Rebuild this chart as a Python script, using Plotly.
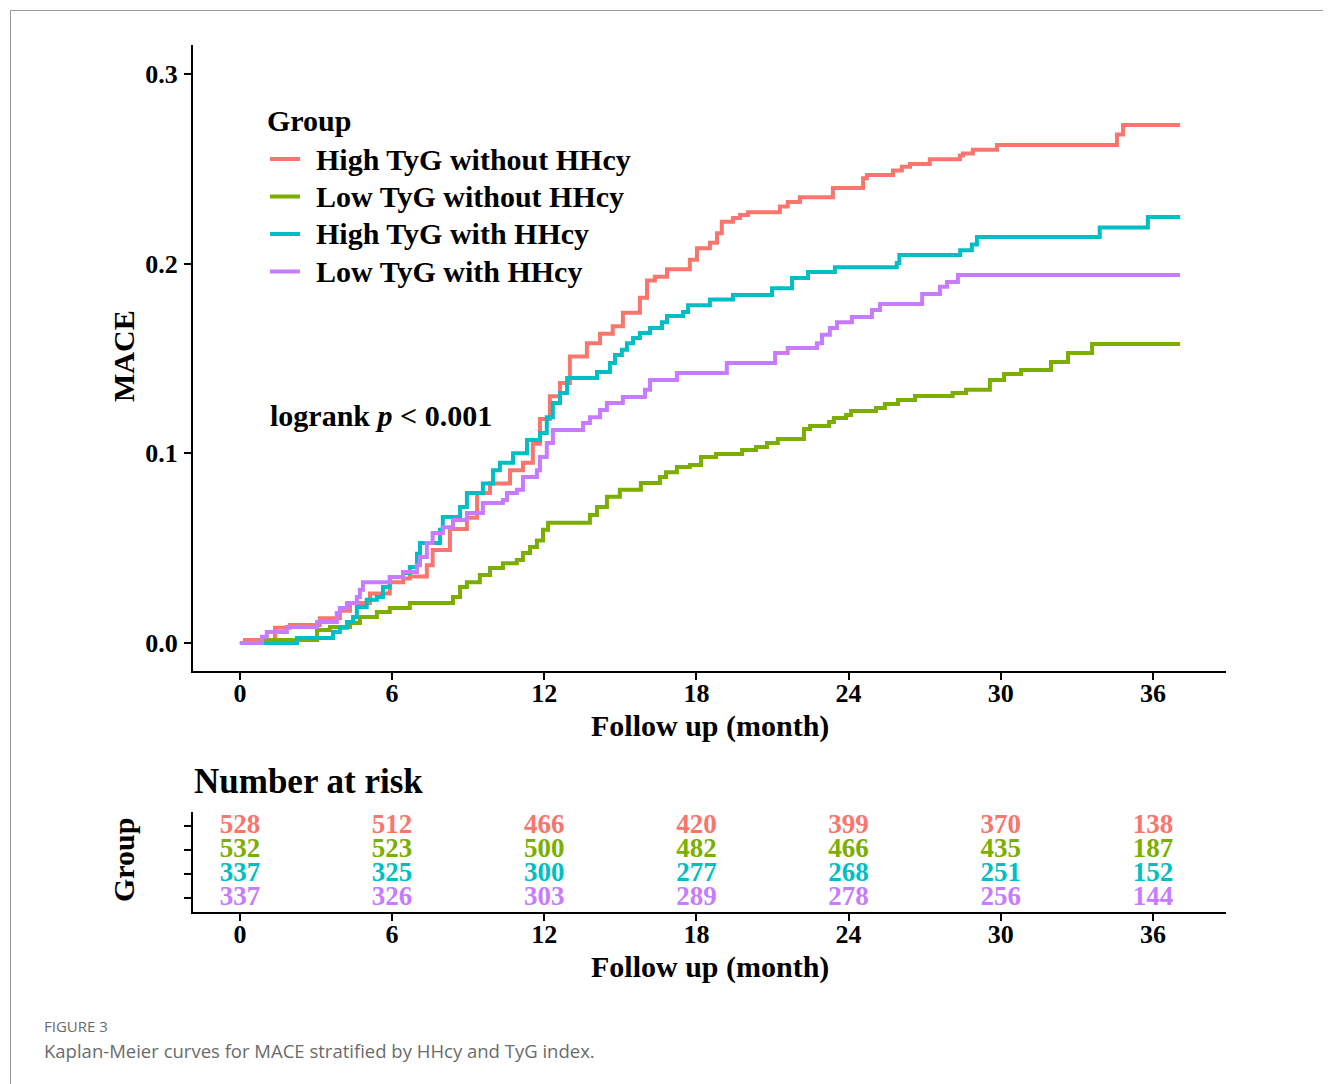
import plotly.graph_objects as go

# ---------------- data ----------------
group_names = ["High TyG without HHcy", "Low TyG without HHcy",
               "High TyG with HHcy", "Low TyG with HHcy"]
group_colors = ["#F8766D", "#7CAE00", "#00BFC4", "#C77CFF"]

# Cumulative MACE incidence (step changes), months
t_high_no = [0, 0.2, 1.38, 1.97, 3.15, 3.94, 4.34, 5.13, 5.91, 6.43, 6.7, 7.37, 7.6, 8.28,
             8.95, 9.35, 9.86, 10.65, 11.16, 11.55, 11.83, 12.22, 12.62, 13.01, 13.68, 14.2,
             14.7, 15.1, 15.77, 16.05, 16.36, 16.84, 17.74, 18.02, 18.53, 18.81, 19.0, 19.44,
             19.72, 20.03, 21.29, 21.6, 22.08, 23.38, 24.57, 24.72, 25.75, 26.1, 26.42, 27.2,
             28.39, 28.51, 28.9, 29.85, 34.58, 34.82, 37.07]
y_high_no = [0, 0.0016, 0.008, 0.0095, 0.013, 0.017, 0.021, 0.026, 0.032, 0.034, 0.035, 0.041,
             0.049, 0.06, 0.066, 0.079, 0.084, 0.091, 0.095, 0.105, 0.118, 0.13, 0.137, 0.151,
             0.158, 0.163, 0.167, 0.174, 0.182, 0.191, 0.193, 0.197, 0.202, 0.208, 0.211, 0.216,
             0.222, 0.224, 0.2256, 0.227, 0.23, 0.2325, 0.235, 0.2398, 0.245, 0.2467, 0.249,
             0.251, 0.2525, 0.255, 0.257, 0.258, 0.26, 0.2625, 0.268, 0.273, 0.273]

t_low_no = [0, 0.91, 3.04, 3.55, 4.34, 4.73, 5.4, 5.91, 6.7, 8.4, 8.68, 8.95, 9.46, 9.86,
            10.37, 10.92, 11.16, 11.44, 11.71, 11.95, 12.15, 13.8, 14.08, 14.47, 14.98, 15.81,
            16.56, 16.8, 17.23, 17.74, 18.18, 18.77, 19.8, 20.35, 20.78, 21.21, 22.24, 22.48,
            23.23, 23.42, 23.9, 24.1, 25.08, 25.43, 25.95, 26.62, 28.1, 28.63, 29.57, 30.13,
            30.8, 31.98, 32.65, 33.6, 37.07]
y_low_no = [0, 0.0016, 0.0068, 0.0084, 0.0105, 0.0137, 0.0163, 0.0184, 0.021, 0.0242, 0.0295,
            0.032, 0.0358, 0.0395, 0.042, 0.0437, 0.0474, 0.0506, 0.054, 0.0596, 0.0633, 0.0675,
            0.0717, 0.077, 0.0807, 0.0843, 0.0875, 0.09, 0.0928, 0.0938, 0.098, 0.0996, 0.1017,
            0.1033, 0.1054, 0.1075, 0.1128, 0.1144, 0.1165, 0.1186, 0.1202, 0.1223, 0.1239,
            0.126, 0.1281, 0.1302, 0.1318, 0.1334, 0.1386, 0.1418, 0.1439, 0.1481, 0.1529,
            0.1576, 0.1576]

t_high_hh = [0, 2.25, 3.67, 3.94, 4.22, 4.46, 4.61, 5.0, 5.4, 5.64, 5.91, 6.43, 6.7, 6.98,
             7.1, 7.89, 8.0, 8.68, 8.95, 9.58, 9.98, 10.25, 10.77, 11.32, 11.83, 12.1, 12.34,
             12.62, 12.9, 14.08, 14.59, 14.79, 15.06, 15.26, 15.5, 15.77, 16.17, 16.64, 16.84,
             17.47, 17.67, 18.53, 19.44, 20.98, 21.77, 22.4, 23.46, 25.9, 26.0, 28.4, 28.86,
             29.06, 33.9, 35.8, 37.07]
y_high_hh = [0, 0.0026, 0.0058, 0.008, 0.011, 0.0137, 0.019, 0.0227, 0.0242, 0.0295, 0.0348,
             0.0369, 0.04, 0.047, 0.0527, 0.0596, 0.0664, 0.0717, 0.079, 0.084, 0.091, 0.095,
             0.1, 0.107, 0.1107, 0.119, 0.1265, 0.1318, 0.1397, 0.1428, 0.1476, 0.1518, 0.1545,
             0.158, 0.1608, 0.1634, 0.166, 0.169, 0.1724, 0.1745, 0.178, 0.181, 0.1834, 0.187,
             0.1924, 0.1956, 0.198, 0.2003, 0.2045, 0.207, 0.21, 0.214, 0.219, 0.2245, 0.2245]

t_low_hh = [0, 0.87, 1.06, 1.85, 3.04, 3.82, 3.94, 4.22, 4.61, 4.73, 4.85, 5.91, 6.43, 6.98,
            7.1, 7.37, 7.6, 8.0, 8.4, 8.95, 9.58, 10.37, 10.53, 10.92, 11.16, 11.71, 11.83,
            12.1, 12.34, 13.53, 13.8, 14.2, 14.47, 15.1, 15.97, 16.17, 17.23, 19.2, 21.1, 21.6,
            22.75, 22.95, 23.26, 23.54, 24.13, 24.92, 25.24, 26.9, 27.6, 27.88, 28.31, 37.07]
y_low_hh = [0, 0.0032, 0.0058, 0.0084, 0.011, 0.0158, 0.0184, 0.021, 0.0242, 0.028, 0.032,
            0.0348, 0.0374, 0.041, 0.0453, 0.0527, 0.058, 0.061, 0.0648, 0.0685, 0.0738, 0.0754,
            0.079, 0.0807, 0.0875, 0.091, 0.098, 0.1054, 0.1123, 0.116, 0.119, 0.1228, 0.1265,
            0.1297, 0.1334, 0.1386, 0.1423, 0.1476, 0.1529, 0.1555, 0.158, 0.1624, 0.166, 0.169,
            0.1718, 0.1755, 0.1787, 0.184, 0.1877, 0.1903, 0.194, 0.194]

month_ticks = [0, 6, 12, 18, 24, 30, 36]
y_ticks = [0.0, 0.1, 0.2, 0.3]
y_tick_labels = ["0.0", "0.1", "0.2", "0.3"]

risk_high_no = [528, 512, 466, 420, 399, 370, 138]
risk_low_no = [532, 523, 500, 482, 466, 435, 187]
risk_high_hh = [337, 325, 300, 277, 268, 251, 152]
risk_low_hh = [337, 326, 303, 289, 278, 256, 144]

curves = [(t_high_no, y_high_no), (t_low_no, y_low_no),
          (t_high_hh, y_high_hh), (t_low_hh, y_low_hh)]
risks = [risk_high_no, risk_low_no, risk_high_hh, risk_low_hh]
risk_rows = [4, 3, 2, 1]

# ---------------- figure ----------------
# page body has an 8px margin, so the figure is 8px smaller and offset
OFF = 8
W, H = 1331 - OFF, 1084 - OFF
SERIF = "Liberation Serif, Times New Roman, serif"
LINE_W = 4

def px_x(p):
    return (p - OFF) / W

def px_y(p):
    return 1 - (p - OFF) / H

fig = go.Figure()
for name, col, (t, y) in zip(group_names, group_colors, curves):
    fig.add_trace(go.Scatter(x=t, y=y, mode="lines", name=name, showlegend=False,
                             line=dict(color=col, width=LINE_W, shape="hv"),
                             xaxis="x", yaxis="y"))

for col, vals, row in zip(group_colors, risks, risk_rows):
    fig.add_trace(go.Scatter(x=month_ticks, y=[row] * len(month_ticks), mode="text",
                             text=[str(v) for v in vals],
                             textfont=dict(family=SERIF, size=27, color=col, weight="bold"),
                             textposition="middle center", showlegend=False,
                             hoverinfo="skip", xaxis="x2", yaxis="y2"))

axis_common = dict(showline=True, linecolor="black", linewidth=2, ticks="outside",
                   ticklen=7, tickwidth=2, tickcolor="black", showgrid=False,
                   zeroline=False,
                   tickfont=dict(family=SERIF, size=26, color="black", weight="bold"))

fig.update_layout(
    width=W, height=H, margin=dict(l=0, r=0, t=0, b=0),
    paper_bgcolor="white", plot_bgcolor="white", showlegend=False,
    xaxis=dict(domain=[px_x(193), px_x(1226)], range=[-1.85, 38.88],
               tickvals=month_ticks, anchor="y", ticklabelstandoff=-9, **axis_common),
    yaxis=dict(domain=[px_y(671), px_y(45)], range=[-0.0148, 0.3152],
               tickvals=y_ticks, ticktext=y_tick_labels, anchor="x",
               ticklabelstandoff=1, **axis_common),
    xaxis2=dict(domain=[px_x(193), px_x(1226)], range=[-1.85, 38.88],
                tickvals=month_ticks, anchor="y2", ticklabelstandoff=-9, **axis_common),
    yaxis2=dict(domain=[px_y(912), px_y(812)], range=[0.4167, 4.5833],
                tickvals=[1, 2, 3, 4], ticktext=["", "", "", ""], anchor="x2",
                **axis_common),
)

ann = []
def add_text(text, x, y, size, xanchor="center", angle=0, family=SERIF, color="black",
             xref="paper", yref="paper"):
    ann.append(dict(text=text, x=x, y=y, xref=xref, yref=yref, showarrow=False,
                    xanchor=xanchor, yanchor="middle", textangle=angle,
                    font=dict(family=family, size=size, color=color)))

# legend (title, keys, labels)
add_text("<b>Group</b>", px_x(265), px_y(120), 30, xanchor="left")
legend_rows = [159, 196.5, 234, 271.5]
for name, col, ry in zip(group_names, group_colors, legend_rows):
    fig.add_shape(type="line", xref="paper", yref="paper",
                  x0=px_x(270), x1=px_x(300), y0=px_y(ry), y1=px_y(ry),
                  line=dict(color=col, width=LINE_W))
    add_text(f"<b>{name}</b>", px_x(314), px_y(ry), 30, xanchor="left")

add_text("<b>logrank <i>p</i> &lt; 0.001</b>", 1.1, 0.1197, 30, xanchor="left",
         xref="x", yref="y")
add_text("<b>MACE</b>", px_x(123), px_y(356), 30, angle=-90)
add_text("<b>Follow up (month)</b>", px_x(710), px_y(726), 30)
add_text("<b>Number at risk</b>", px_x(192), px_y(781), 35, xanchor="left")
add_text("<b>Group</b>", px_x(123), px_y(860), 30, angle=-90)
add_text("<b>Follow up (month)</b>", px_x(710), px_y(967), 30)
add_text("FIGURE 3", px_x(42), px_y(1026), 15, xanchor="left",
         family="Open Sans, sans-serif", color="#6b6b6b")
add_text("Kaplan-Meier curves for MACE stratified by HHcy and TyG index.", px_x(42),
         px_y(1050), 18.5, xanchor="left", family="Open Sans, sans-serif", color="#6b6b6b")
fig.update_layout(annotations=ann)

# thin page frame (top and left edges)
fig.add_shape(type="path", xref="paper", yref="paper",
              path=f"M {px_x(1331)},{px_y(10.5)} L {px_x(10.5)},{px_y(10.5)} L {px_x(10.5)},{px_y(1084)}",
              line=dict(color="#9a9a9a", width=1))

fig.write_html("out.html")
